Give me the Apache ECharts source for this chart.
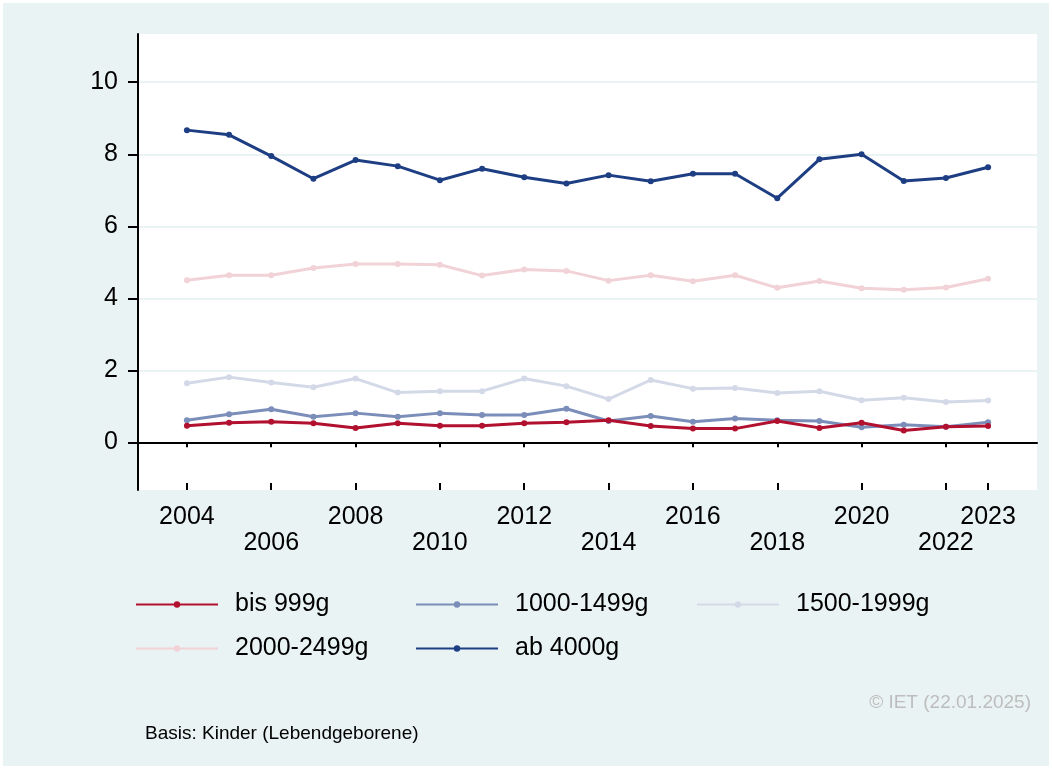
<!DOCTYPE html>
<html>
<head>
<meta charset="utf-8">
<script src="https://cdn.jsdelivr.net/npm/echarts@6/dist/echarts.min.js"></script>
<style>
html,body{margin:0;padding:0;background:#ffffff;}
#chart{width:1052px;height:769px;}
</style>
</head>
<body>
<div id="chart"></div>
<script>
const years = [2004,2005,2006,2007,2008,2009,2010,2011,2012,2013,2014,2015,2016,2017,2018,2019,2020,2021,2022,2023];
const xTickValues = [2004,2006,2008,2010,2012,2014,2016,2018,2020,2022,2023];
const xUpperRow = [2004,2008,2012,2016,2020,2023];
const xLowerRow = [2006,2010,2014,2018,2022];
const yTickValues = [0,2,4,6,8,10];
const seriesNames = ['bis 999g','1000-1499g','1500-1999g','2000-2499g','ab 4000g'];
const bis999 = [0.46,0.54,0.57,0.53,0.40,0.53,0.46,0.46,0.53,0.56,0.61,0.45,0.38,0.38,0.59,0.40,0.54,0.33,0.43,0.45];
const g1000_1499 = [0.61,0.78,0.92,0.71,0.81,0.71,0.81,0.76,0.76,0.93,0.59,0.73,0.57,0.66,0.61,0.59,0.42,0.49,0.43,0.56];
const g1500_1999 = [1.64,1.81,1.66,1.53,1.77,1.38,1.42,1.42,1.77,1.56,1.20,1.73,1.49,1.51,1.37,1.42,1.17,1.24,1.12,1.16];
const g2000_2499 = [4.50,4.64,4.64,4.84,4.95,4.95,4.93,4.63,4.80,4.76,4.49,4.64,4.47,4.64,4.29,4.48,4.28,4.24,4.30,4.54];
const ab4000 = [8.67,8.54,7.95,7.32,7.84,7.67,7.28,7.60,7.36,7.19,7.42,7.25,7.46,7.46,6.78,7.86,8.00,7.26,7.34,7.64];
const footerRight = '© IET (22.01.2025)';
const footerLeft = 'Basis: Kinder (Lebendgeborene)';

const colors = ['#B2102F','#7B8EBA','#D4D9E8','#F1D2D7','#1E3E83'];
const allValues = [bis999,g1000_1499,g1500_1999,g2000_2499,ab4000];
const FONT = '"Liberation Sans", Arial, sans-serif';

const chart = echarts.init(document.getElementById('chart'), null, {renderer:'canvas'});

const series = seriesNames.map((name,i)=>({
  name: name,
  type: 'line',
  data: years.map((y,j)=>[y, allValues[i][j]]),
  symbol: 'circle',
  symbolSize: 6,
  showSymbol: true,
  lineStyle: {color: colors[i], width: 3},
  itemStyle: {color: colors[i]},
  z: 3 + (i===0 ? 1 : 0),
  animation: false
}));

// legend positions: [left, top]
const legendPos = [[135,592],[415,592],[696,592],[135,636],[415,636]];
const legends = seriesNames.map((name,i)=>({
  data: [name],
  left: legendPos[i][0],
  top: legendPos[i][1],
  orient: 'horizontal',
  itemWidth: 82,
  itemHeight: 8,
  selectedMode: false,
  padding: 0,
  textStyle: {fontFamily: FONT, fontSize: 25, color: '#000', padding: [0,0,0,12]}
}));

const option = {
  backgroundColor: '#ffffff',
  animation: false,
  graphic: [
    {type:'rect', shape:{x:3,y:3,width:1046,height:763}, style:{fill:'#EAF3F3'}, z:-10, silent:true},
    {type:'text', right: 21, top: 693, style:{text: footerRight, fontFamily: FONT, fontSize: 19, fill:'#BDBDBD'}},
    {type:'text', left: 145, top: 724, style:{text: footerLeft, fontFamily: FONT, fontSize: 19, fill:'#000'}}
  ],
  grid: {left: 138, top: 34, right: 15, bottom: 279, backgroundColor: '#ffffff', show: true, borderWidth: 0},
  legend: legends,
  xAxis: [{
    type: 'value',
    min: 2002.84,
    max: 2024.16,
    axisLine: {show: true, lineStyle: {color: '#000', width: 2}},
    axisTick: {show: true, length: 5, lineStyle: {color:'#000', width: 2}, customValues: xTickValues},
    axisLabel: {
      customValues: xUpperRow,
      margin: 15,
      fontFamily: FONT, fontSize: 25, color: '#000',
      formatter: function(v){ return String(v); }
    },
    splitLine: {show: false}
  },{
    type: 'value',
    min: 2002.84,
    max: 2024.16,
    position: 'bottom',
    axisLine: {show: false},
    axisTick: {show: true, inside: true, length: 7, lineStyle: {color:'#000', width: 2}, customValues: xTickValues},
    axisLabel: {
      customValues: xLowerRow,
      margin: 41,
      fontFamily: FONT, fontSize: 25, color: '#000',
      formatter: function(v){ return String(v); }
    },
    splitLine: {show: false}
  }],
  yAxis: {
    type: 'value',
    min: -1.325,
    max: 11.34,
    axisLine: {show: true, lineStyle: {color: '#000', width: 2}},
    axisTick: {show: true, length: 10, lineStyle: {color:'#000', width: 2}, customValues: yTickValues},
    axisLabel: {customValues: yTickValues, margin: 20, fontFamily: FONT, fontSize: 25, color: '#000'},
    splitLine: {show: true, lineStyle: {color: '#EAF3F3', width: 2}, customValues: yTickValues}
  },
  series: series
};
chart.setOption(option);
</script>
</body>
</html>
